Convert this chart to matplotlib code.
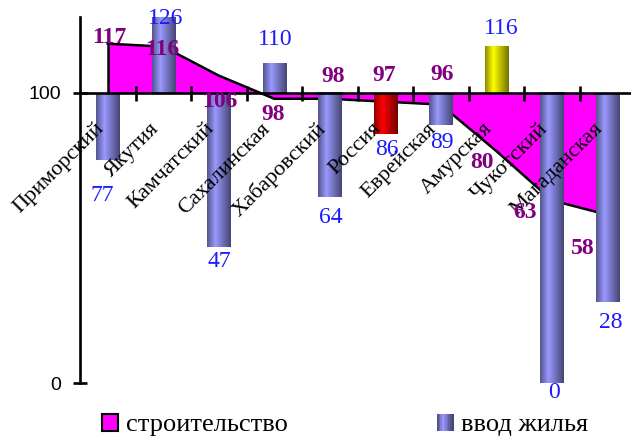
import numpy as np
import matplotlib
matplotlib.use("Agg")
import matplotlib.pyplot as plt
from matplotlib.patches import Patch, Rectangle
from matplotlib.legend_handler import HandlerBase

# ---------------- data ----------------
categories = ["Приморский", "Якутия", "Камчатский", "Сахалинская", "Хабаровский",
              "Россия", "Еврейская", "Амурская", "Чукотский", "Магаданская"]
construction = [117, 116, 106, 98, 98, 97, 96, 80, 63, 58]      # строительство (area)
housing = [77, 126, 47, 110, 64, 86, 89, 116, 0, 28]             # ввод жилья (bars)
series_names = ["строительство", "ввод жилья"]
baseline = 100
y_ticks = [0, 100]

# label offsets (pixels) relative to the data point
area_label_off = [(2, 6), (-1, -3), (1, -26), (-1, -16), (3, 22), (-1, 26),
                  (1, 30), (-14, -12), (-27, -12), (-25, -34)]
bar_label_off = [(-5, -36), (2, -1), (1, -15), (1, 24), (1, -20), (2, -16),
                 (1, -18), (5, 18), (2, -9), (4, -21)]

# ---------------- styling ----------------
SERIF = "Liberation Serif"
SANS = "Liberation Sans"
MAGENTA = "#FF00FF"
bar_base = {"default": (153, 153, 255), "Россия": (255, 0, 0), "Амурская": (255, 255, 0)}


def gradient_row(rgb, n=64):
    t = np.linspace(0, 1, n)
    prof = np.where(t < 0.35, 0.55 + 0.45 * (t / 0.35),
                    1.0 - 0.55 * ((t - 0.35) / 0.65))
    c = np.array(rgb) / 255.0
    row = np.clip(c[None, :] * prof[:, None], 0, 1)
    return row[None, :, :]


class GradHandler(HandlerBase):
    def create_artists(self, legend, orig_handle, xdescent, ydescent,
                       width, height, fontsize, trans):
        arts = []
        row = gradient_row(bar_base["default"], 10)[0]
        n = len(row)
        for k in range(n):
            r = Rectangle((-xdescent + k * width / n, -ydescent), width / n + 0.2, height,
                          facecolor=row[k], edgecolor="none", transform=trans)
            arts.append(r)
        return arts


fig = plt.figure(figsize=(6.31, 4.36), dpi=100)
ax = fig.add_axes([80 / 631, 53 / 436, 555 / 631, 366 / 436])

x = np.arange(len(categories))

# area between values and baseline
ax.fill_between(x, construction, baseline, color=MAGENTA, linewidth=0, zorder=1)
ax.plot(x, construction, color="black", lw=1.8, zorder=2, solid_joinstyle="miter")
ax.plot([x[0], x[0]], [baseline, construction[0]], color="black", lw=1.8, zorder=2)

# bars from baseline
heights = [v - baseline for v in housing]
bars = ax.bar(x, heights, width=0.42, bottom=baseline, color="#9999FF", zorder=3,
              linewidth=0)
for cat, b in zip(categories, bars):
    rgb = bar_base.get(cat, bar_base["default"])
    x0, w = b.get_x(), b.get_width()
    y0, h = b.get_y(), b.get_height()
    ax.imshow(gradient_row(rgb), extent=(x0, x0 + w, y0, y0 + h), aspect="auto",
              interpolation="bilinear", zorder=3.1)

ax.set_xlim(-0.5, len(categories) - 0.5)
ax.set_ylim(0, 126.2)

# axes styling
for s in ["top", "right"]:
    ax.spines[s].set_visible(False)
ax.spines["bottom"].set_position(("data", baseline))
ax.spines["bottom"].set_linewidth(1.9)
ax.spines["left"].set_linewidth(1.9)
ax.spines["bottom"].set_zorder(5)
ax.spines["left"].set_zorder(5)

ax.set_xticks(np.arange(0.5, len(categories) - 0.5, 1.0))
ax.set_xticklabels([])
ax.tick_params(axis="x", direction="inout", length=10.8, width=1.9)
ax.set_yticks(y_ticks)
ax.set_yticklabels([str(t) for t in y_ticks], fontfamily=SANS, fontsize=14)
ax.tick_params(axis="y", direction="inout", length=10.5, width=1.9, pad=8)

# category labels
for i, c in enumerate(categories):
    ax.annotate(c, xy=(i, baseline), xytext=(-7, -33), textcoords="offset pixels",
                rotation=45, rotation_mode="anchor", ha="right", va="center",
                fontfamily=SERIF, fontsize=16, color="black", zorder=4,
                annotation_clip=False)

# data labels
for i, (v, off) in enumerate(zip(construction, area_label_off)):
    ax.annotate(str(v), xy=(i, v), xytext=off, textcoords="offset pixels",
                ha="center", va="center", fontfamily=SERIF, fontsize=17,
                fontweight="bold", color="#800080", zorder=6)
for i, (v, off) in enumerate(zip(housing, bar_label_off)):
    ax.annotate(str(v), xy=(i, v), xytext=off, textcoords="offset pixels",
                ha="center", va="center", fontfamily=SERIF, fontsize=17,
                color="#1A1AFF", zorder=6)

# legends
h1 = Patch(facecolor=MAGENTA, edgecolor="black", linewidth=1.5)
h2 = Patch(facecolor="#9999FF")
leg_kw = dict(frameon=False, borderpad=0, borderaxespad=0, handlelength=0.62,
              handleheight=0.62, handletextpad=0.3,
              prop={"family": SERIF, "size": 19})
fig.legend([h1], [series_names[0]], loc="center left",
           bbox_to_anchor=(102 / 631, 1 - 425 / 436), **leg_kw)
fig.legend([h2], [series_names[1]], loc="center left",
           bbox_to_anchor=(437 / 631, 1 - 425 / 436),
           handler_map={Patch: GradHandler()}, **leg_kw)

fig.savefig("out.png", dpi=100)
